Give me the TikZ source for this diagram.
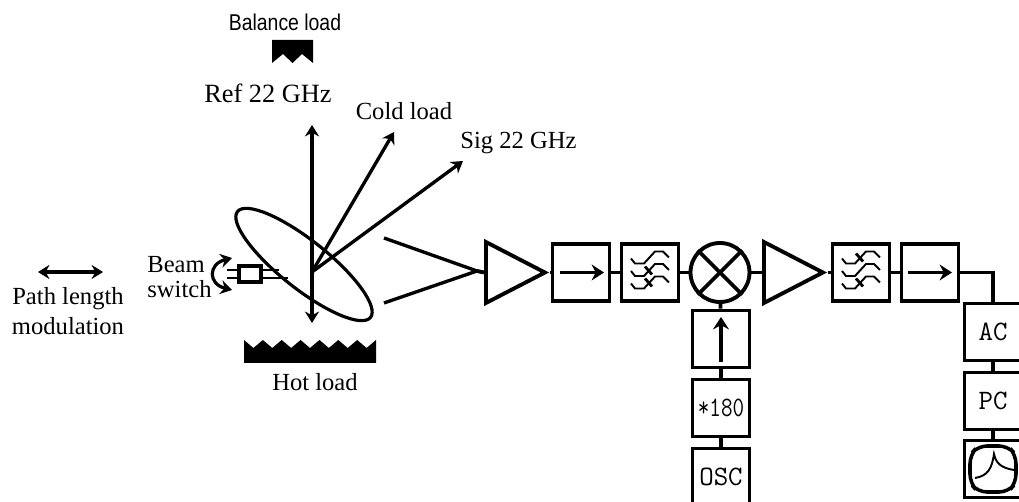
\documentclass[tikz,border=0pt]{standalone}
\usepackage{fontspec}
\setmainfont{Liberation Serif}
\setsansfont{Liberation Sans}
\usetikzlibrary{shapes.geometric, arrows.meta}

\tikzset{
    wire/.style={line width=2.2pt},
    ray/.style={line width=1.9pt},
    bigtip/.style={-{Stealth[length=7pt,width=9pt]}},
    blockbox/.style={draw, wire, minimum width=1.14cm, minimum height=1.14cm, inner sep=0pt, font=\ttfamily\fontsize{16}{16}\selectfont},
    ampbox/.style={draw, wire, isosceles triangle, isosceles triangle stretches, minimum width=1.22cm, minimum height=1.18cm, inner sep=0pt, anchor=lower side},
    mixerbox/.style={draw, wire, circle, minimum size=1.18cm, inner sep=0pt},
    lbl/.style={font=\fontsize{14}{14}\selectfont, inner sep=0pt},
    filtersym/.pic={
        \foreach \yy in {0,12.5,25}
            \draw[line width=1.1pt, yshift=-\yy*0.02cm] (-19,-14) -- (-15,-9) -- (-6,-9) -- (5,-21) -- (13,-21) -- (19,-15);
        \foreach \yy in {#1}
            \draw[line width=1.6pt] (-5,\yy-4) -- (2,\yy+4);
    }
}

\begin{document}
\begin{tikzpicture}[>={Stealth[length=6.5pt,width=8pt]}, x=0.02cm, y=-0.02cm]

    \clip (0,0) rectangle (1019,502);

    % Loads
    \fill (272,40) -- (313,40) -- (313,63) -- (302,54) -- (292.5,63) -- (283,54) -- (272,63) -- cycle;
    \fill (244,363) -- (244,340) \foreach \i in {0,...,6} { -- ({244+18.86*\i+9.43},348) -- ({244+18.86*(\i+1)},340) } -- (376,363) -- cycle;

    % Labels
    \node[xscale=0.85, font=\sffamily\fontsize{13}{13}\selectfont, inner sep=0pt] (balance) at (285,22) {Balance load};
    \node[lbl, font=\fontsize{15}{15}\selectfont] (ref) at (268,93) {Ref 22 GHz};
    \node[lbl] (cold) at (404,111) {Cold load};
    \node[lbl, anchor=west] (sig) at (460,143) {Sig 22 GHz};
    \node[lbl] (hot) at (315,382) {Hot load};
    \node[lbl, align=center] (path) at (68,311) {Path length\\[3pt]modulation};
    \node[lbl, align=left, anchor=west] (beam) at (147,277) {Beam\\switch};

    % Path length arrow
    \coordinate (pathl) at (38,272);
    \coordinate (pathr) at (103,272);
    \draw[<->, wire] (pathl) -- (pathr);

    % Mirror and rays
    \draw[line width=1.8pt] (304,264.5) ellipse [x radius=85, y radius=24, rotate=-38.5];
    \coordinate (focus) at (312,272);
    \coordinate (rayup) at (312,125);
    \coordinate (raydown) at (312,323);
    \coordinate (raycold) at (394,132);
    \coordinate (raysig) at (463,161);
    \draw[<->, ray] (rayup) -- (raydown);
    \draw[->, ray] (focus) -- (raycold);
    \draw[->, ray] (focus) -- (raysig);

    % Beam switch
    \draw[line width=1.1pt] (227,270) -- (279,270);
    \draw[line width=1.1pt] (227,278) -- (288,278);
    \node[draw, wire, fill=white, minimum width=0.44cm, minimum height=0.32cm, inner sep=0pt] (switch) at (250,274) {};
    \coordinate (swingup) at (232,258);
    \coordinate (swingdown) at (232,290);
    \draw[<->, line width=1.8pt] (swingup) .. controls (208,264) and (208,284) .. (swingdown);

    % Horn
    \coordinate (hornup) at (384,238);
    \coordinate (hornlow) at (384,303);
    \coordinate (horntip) at (477,271);
    \draw[ray] (hornup) -- (horntip) -- (hornlow);

    % Receiver chain
    \node[ampbox] (amp1) at (484,272.5) {};
    \node[blockbox] (iso1) at (581,272.5) {};
    \node[blockbox] (filt1) at (650,272.5) {};
    \node[mixerbox] (mixer) at (720,272.5) {};
    \node[ampbox] (amp2) at (762,272.5) {};
    \node[blockbox] (filt2) at (861,272.5) {};
    \node[blockbox] (iso2) at (930,272.5) {};
    \node[blockbox] (ac) at (993,332) {AC};
    \node[blockbox] (pc) at (993,401) {PC};
    \node[blockbox] (scope) at (993,469) {};
    \node[blockbox] (lo) at (721,339) {};
    \node[blockbox] (mult) at (721,408) {\scalebox{0.8}[1]{*180}};
    \node[blockbox] (osc) at (721,477) {OSC};

    \draw[wire] (horntip) -- (amp1.lower side);
    \draw[wire] (amp1.apex) -- (iso1);
    \draw[wire] (iso1) -- (filt1);
    \draw[wire] (filt1) -- (mixer);
    \draw[wire] (mixer) -- (amp2.lower side);
    \draw[wire] (amp2.apex) -- (filt2);
    \draw[wire] (filt2) -- (iso2);
    \draw[wire] (iso2.east) -| (ac.north);
    \draw[wire] (ac) -- (pc);
    \draw[wire] (pc) -- (scope);
    \draw[wire] (mixer) -- (lo);
    \draw[wire] (lo) -- (mult);
    \draw[wire] (mult) -- (osc);

    \draw[wire] (mixer.45) -- (mixer.225);
    \draw[wire] (mixer.135) -- (mixer.315);

    % Block contents
    \draw[bigtip, wire] (560,272.5) -- (604,272.5);
    \draw[bigtip, wire] (908,272.5) -- (952,272.5);
    \draw[bigtip, wire] (721,362) -- (721,317);
    \pic at (650,272.5) {filtersym={-2,10}};
    \pic at (861,272.5) {filtersym={-15,10}};

    % Scope screen
    \draw[line width=2pt, rounded corners=5pt] (978,446) -- (1008,446) -- (1016,455) -- (1016,483) -- (1008,492) -- (978,492) -- (970,483) -- (970,455) -- cycle;
    \draw[line width=1.1pt] (975,478) .. controls (988,476) and (992,468) .. (994,454) .. controls (996,464) and (1002,468) .. (1014,470);

\end{tikzpicture}
\end{document}
